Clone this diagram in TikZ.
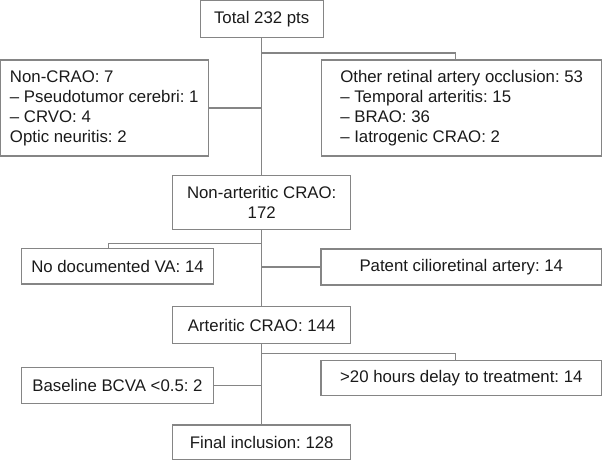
\documentclass[tikz,border=0pt]{standalone}
\usepackage{fontspec}
\setmainfont{Liberation Sans}
\usepackage{tikz}
\frenchspacing
\definecolor{rule}{HTML}{858585}
\definecolor{ink}{HTML}{1A1A1A}
\tikzset{font=\fontsize{8.4}{10}\selectfont}
\tikzset{box/.style={shape=rectangle, draw=rule, line width=.55pt, text=ink,
    inner sep=0pt, align=center}}
\tikzset{link/.style={draw=rule, line width=.55pt}}

\begin{document}
\begin{tikzpicture}[x=.5pt,y=-.5pt]
    \useasboundingbox (0,0) rectangle (602,460);
    \node[box, minimum width=61.5pt, minimum height=18.5pt] (total) at (261.7,18.8) {Total 232 pts};
    \node[box, minimum width=104pt, minimum height=48pt, align=left] (noncrao) at (104.3,108)
      {Non-CRAO: 7\\\textendash{} Pseudotumor cerebri: 1\\\textendash{} CRVO: 4\\Optic neuritis: 2};
    \node[box, minimum width=140pt, minimum height=48pt, align=left] (other) at (461.7,108)
      {Other retinal artery occlusion: 53\\\textendash{} Temporal arteritis: 15\\\textendash{} BRAO: 36\\\textendash{} Iatrogenic CRAO: 2};
    \node[box, minimum width=89pt, minimum height=26.8pt] (nonart) at (261.7,202.5)
      {Non-arteritic CRAO:\\172};
    \node[box, minimum width=95.8pt, minimum height=17.8pt] (nodoc) at (117.5,266.2) {No documented VA: 14};
    \node[box, minimum width=140.3pt, minimum height=18pt] (patent) at (461.3,267) {Patent cilioretinal artery: 14};
    \node[box, minimum width=89pt, minimum height=18.3pt] (art) at (261.7,325) {Arteritic CRAO: 144};
    \node[box, minimum width=140.3pt, minimum height=17.5pt] (delay) at (461.3,378.2) {>20 hours delay to treatment: 14};
    \node[box, minimum width=95.8pt, minimum height=17.8pt] (baseline) at (117.5,385.5) {Baseline BCVA <0.5: 2};
    \node[box, minimum width=89pt, minimum height=17.2pt] (final) at (261.7,442.2) {Final inclusion: 128};
    \coordinate (split1) at (261.7,53);
    \coordinate (split2) at (261.7,243.3);
    \coordinate (split3) at (261.7,353.3);
    \path[link] (total.south) -- (nonart.north);
    \path[link] (split1) -| ([xshift=-3pt]other.north);
    \path[link] (noncrao.east) -- (noncrao.east -| total.south);
    \path[link] (nonart.south) -- (art.north);
    \path[link] (split2) -| ([xshift=-4.6pt]nodoc.north);
    \path[link] (patent.west) -- (patent.west -| nonart.south);
    \path[link] (art.south) -- (final.north);
    \path[link] (split3) -| ([xshift=-2.8pt]delay.north);
    \path[link] (baseline.east) -- (baseline.east -| art.south);
  \end{tikzpicture}
\end{document}
